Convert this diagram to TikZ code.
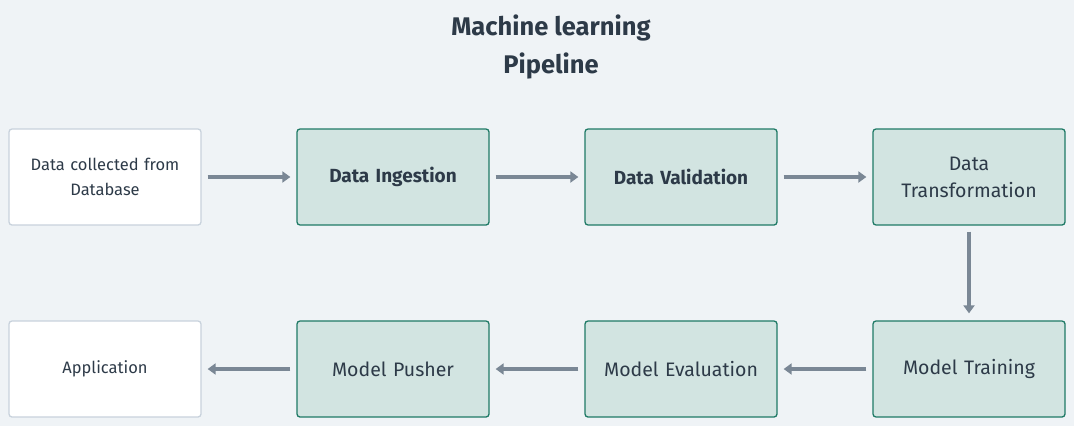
\documentclass[tikz,border=0pt]{standalone}
\usepackage{fontspec}
\setmainfont{Fira Sans}
\usetikzlibrary{arrows.meta}
\definecolor{bg}{HTML}{EFF3F6}
\definecolor{txt}{HTML}{2D3A48}
\definecolor{gfill}{HTML}{D2E4E1}
\definecolor{gdraw}{HTML}{1F7A66}
\definecolor{wdraw}{HTML}{C8D2DC}
\definecolor{arr}{HTML}{7A8795}
\tikzset{
  box/.style={rounded corners=3pt, minimum width=192pt, minimum height=96pt, text width=186pt, align=center, inner sep=0pt, text=txt, font=\fontsize{19.5}{27}\selectfont, line width=1.3pt},
  gbox/.style={box, fill=gfill, draw=gdraw},
  bbox/.style={gbox, font=\bfseries\fontsize{19}{27}\selectfont},
  wbox/.style={box, fill=white, draw=wdraw, font=\fontsize{16.5}{25}\selectfont},
  conn/.style={draw=arr, line width=3.5pt, -{Triangle[length=8pt,width=11pt]}},
}
\begin{document}
\begin{tikzpicture}[x=1pt,y=-1pt]
\fill[bg] (0,0) rectangle (1074,426);
\useasboundingbox (0,0) rectangle (1074,426);
\node[text=txt, font=\bfseries\fontsize{25.5}{38}\selectfont, align=center] (title) at (551,47) {Machine learning\\Pipeline};
\node[wbox] (src) at (105,177) {Data collected from\\Database};
\node[bbox] (ing) at (393,177) {Data Ingestion};
\node[bbox] (val) at (681,177) {Data Validation};
\node[gbox] (tra) at (969,177) {Data\\Transformation};
\node[gbox] (trn) at (969,369) {Model Training};
\node[gbox] (eva) at (681,369) {Model Evaluation};
\node[gbox] (pus) at (393,369) {Model Pusher};
\node[wbox] (app) at (105,369) {Application};
\draw[conn] ([xshift=6pt]src.east) -- ([xshift=-6pt]ing.west);
\draw[conn] ([xshift=6pt]ing.east) -- ([xshift=-6pt]val.west);
\draw[conn] ([xshift=6pt]val.east) -- ([xshift=-6pt]tra.west);
\draw[conn] ([yshift=-6pt]tra.south) -- ([yshift=7pt]trn.north);
\draw[conn] ([xshift=-6pt]trn.west) -- ([xshift=6pt]eva.east);
\draw[conn] ([xshift=-6pt]eva.west) -- ([xshift=6pt]pus.east);
\draw[conn] ([xshift=-6pt]pus.west) -- ([xshift=6pt]app.east);
\end{tikzpicture}
\end{document}
